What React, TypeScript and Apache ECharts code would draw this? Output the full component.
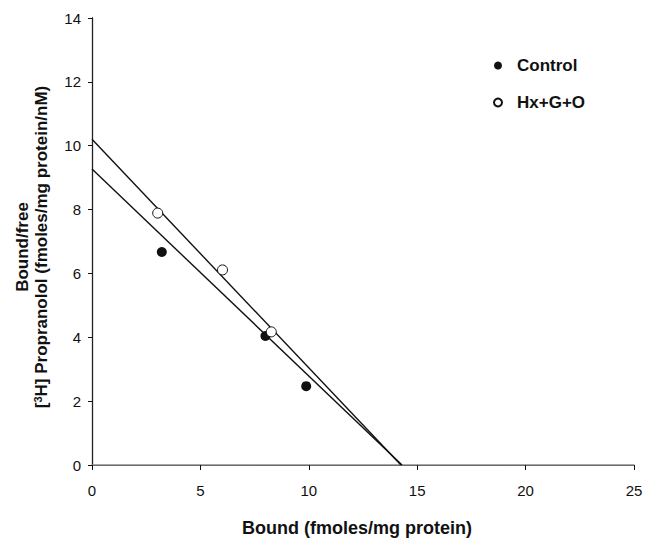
import React, { useEffect, useRef } from "react";
import * as echarts from "echarts";

const xTicks = [0, 5, 10, 15, 20, 25];
const yTicks = [0, 2, 4, 6, 8, 10, 12, 14];
const controlPoints: [number, number][] = [
  [3.22, 6.67],
  [8.0, 4.04],
  [9.88, 2.47],
];
const hxPoints: [number, number][] = [
  [3.03, 7.89],
  [6.02, 6.11],
  [8.27, 4.17],
];
const controlFit: [number, number][] = [
  [0, 9.27],
  [14.3, 0],
];
const hxFit: [number, number][] = [
  [0, 10.2],
  [14.25, 0],
];
const seriesNames = ["Control", "Hx+G+O"];

const FONT = "'Liberation Sans', Arial, Helvetica, sans-serif";

export default function App() {
  const ref = useRef<HTMLDivElement>(null);
  useEffect(() => {
    if (!ref.current) return;
    const chart = echarts.init(ref.current, undefined, { renderer: "svg" });
    chart.setOption({
      animation: false,
      backgroundColor: "#ffffff",
      grid: { left: 92, right: 13, top: 18, bottom: 76, containLabel: false },
      xAxis: [
        {
          type: "value",
          min: xTicks[0],
          max: xTicks[xTicks.length - 1],
          interval: 5,
          axisLine: { show: true, onZero: false, lineStyle: { color: "#111", width: 1 } },
          axisTick: { show: true, length: 5, lineStyle: { color: "#111" } },
          axisLabel: { margin: 18, fontSize: 15, color: "#111", fontFamily: FONT },
          splitLine: { show: false },
        },
        {
          type: "value",
          position: "top",
          min: xTicks[0],
          max: xTicks[xTicks.length - 1],
          axisLine: { show: true, lineStyle: { color: "#8a8a8a", width: 1.5 } },
          axisTick: { show: false },
          axisLabel: { show: false },
          splitLine: { show: false },
        },
      ],
      yAxis: [
        {
          type: "value",
          min: yTicks[0],
          max: yTicks[yTicks.length - 1],
          interval: 2,
          axisLine: { show: true, onZero: false, lineStyle: { color: "#111", width: 1 } },
          axisTick: { show: true, length: 4, lineStyle: { color: "#111" } },
          axisLabel: { margin: 11, fontSize: 15, color: "#111", fontFamily: FONT },
          splitLine: { show: false },
        },
        {
          type: "value",
          position: "right",
          min: yTicks[0],
          max: yTicks[yTicks.length - 1],
          axisLine: { show: true, lineStyle: { color: "#222", width: 1.3 } },
          axisTick: { show: false },
          axisLabel: { show: false },
          splitLine: { show: false },
        },
      ],
      legend: {
        data: seriesNames,
        orient: "vertical",
        left: 488,
        top: 50,
        itemWidth: 8,
        itemHeight: 8,
        itemGap: 16,
        textStyle: {
          fontSize: 17,
          fontWeight: "bold",
          color: "#111",
          fontFamily: FONT,
          lineHeight: 21,
          padding: [0, 0, 0, 10],
        },
      },
      graphic: [
        {
          type: "text",
          x: 357,
          y: 528,
          style: {
            text: "Bound (fmoles/mg protein)",
            fontSize: 18,
            fontWeight: "bold",
            fontFamily: FONT,
            fill: "#111",
            textAlign: "center",
            textVerticalAlign: "middle",
          },
        },
        {
          type: "text",
          x: 32,
          y: 247,
          rotation: Math.PI / 2,
          style: {
            text: "{t|Bound/free}\n{t|[}{s|3}{t|H] Propranolol (fmoles/mg protein/nM)}",
            textAlign: "center",
            textVerticalAlign: "middle",
            fill: "#111",
            rich: {
              t: { fontSize: 17, fontWeight: "bold", fontFamily: FONT, lineHeight: 19, fill: "#111" },
              s: {
                fontSize: 11,
                fontWeight: "bold",
                fontFamily: FONT,
                lineHeight: 12,
                verticalAlign: "top",
                fill: "#111",
              },
            },
          },
        },
      ],
      series: [
        {
          name: "fit-control",
          type: "line",
          data: controlFit,
          showSymbol: false,
          symbol: "none",
          lineStyle: { color: "#111", width: 1.4 },
          z: 2,
        },
        {
          name: "fit-hx",
          type: "line",
          data: hxFit,
          showSymbol: false,
          symbol: "none",
          lineStyle: { color: "#111", width: 1.4 },
          z: 2,
        },
        {
          name: seriesNames[0],
          type: "scatter",
          data: controlPoints,
          symbol: "circle",
          symbolSize: 10,
          itemStyle: { color: "#111", opacity: 1 },
          z: 3,
        },
        {
          name: seriesNames[1],
          type: "scatter",
          data: hxPoints,
          symbol: "circle",
          symbolSize: 10,
          itemStyle: { color: "#ffffff", borderColor: "#111", borderWidth: 1, opacity: 1 },
          z: 3,
        },
      ],
    });
    return () => chart.dispose();
  }, []);
  return <div ref={ref} style={{ width: 647, height: 541, position: "absolute", left: 0, top: 0 }} />;
}
